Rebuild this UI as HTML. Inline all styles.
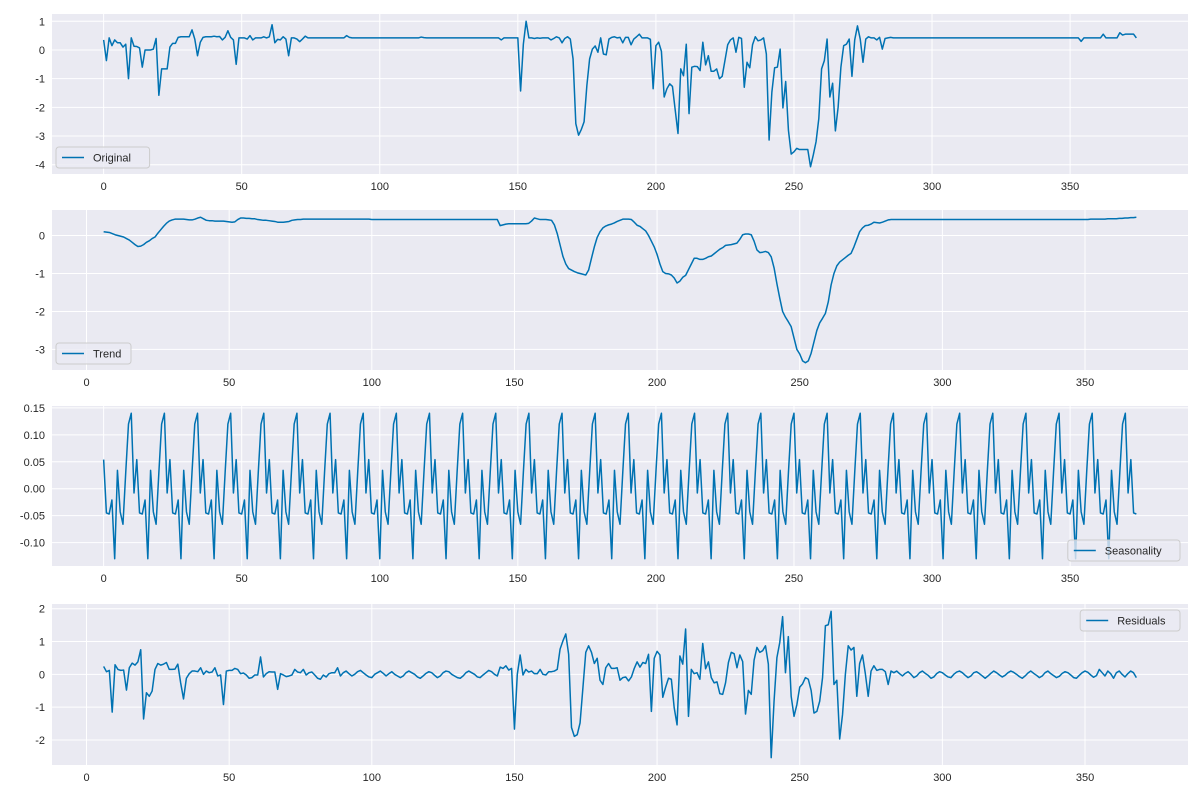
<!DOCTYPE html>
<html><head><meta charset="utf-8"><title>Seasonal decomposition</title>
<style>
html,body{margin:0;padding:0;background:#fff;}
svg{display:block;font-family:"Liberation Sans","DejaVu Sans",sans-serif;}
</style></head>
<body>
<svg id="chart" width="1200" height="800" viewBox="0 0 1200 800" xmlns="http://www.w3.org/2000/svg"></svg>
<script>
const originalStart = 0;
const originalValues = [
0.35,-0.37,0.42,0.15,0.35,0.25,0.25,0.1,0.2,-1.0,
0.42,0.13,0.12,0.07,-0.6,0,0,0,0.03,0.4,
-1.58,-0.66,-0.66,-0.66,0.1,0.23,0.23,0.44,0.46,0.46,
0.46,0.46,0.7,0.38,-0.2,0.27,0.44,0.46,0.46,0.46,
0.48,0.46,0.47,0.35,0.44,0.67,0.44,0.35,-0.5,0.42,
0.42,0.42,0.38,0.5,0.35,0.42,0.42,0.42,0.46,0.42,
0.46,0.88,0.25,0.37,0.35,0.46,0.38,-0.2,0.42,0.42,
0.38,0.29,0.38,0.48,0.42,0.42,0.42,0.42,0.42,0.42,
0.42,0.42,0.42,0.42,0.42,0.42,0.42,0.42,0.5,0.44,
0.42,0.42,0.42,0.42,0.42,0.42,0.42,0.42,0.42,0.42,
0.42,0.42,0.42,0.42,0.42,0.42,0.42,0.42,0.42,0.42,
0.42,0.42,0.42,0.42,0.42,0.45,0.43,0.42,0.42,0.42,
0.42,0.42,0.42,0.42,0.42,0.42,0.42,0.42,0.42,0.42,
0.42,0.42,0.42,0.42,0.42,0.42,0.42,0.42,0.42,0.42,
0.42,0.42,0.42,0.42,0.35,0.42,0.42,0.42,0.42,0.42,
0.42,-1.43,0.2,1.0,0.42,0.42,0.4,0.42,0.41,0.42,
0.42,0.42,0.35,0.4,0.46,0.42,0.25,0.4,0.46,0.38,
-0.31,-2.57,-2.97,-2.77,-2.5,-1.24,-0.31,0.03,0.14,-0.08,
0.42,-0.14,-0.17,0.38,0.44,0.46,0.42,0.44,0.25,0.44,
0.44,0.18,0.38,0.46,0.55,0.42,0.42,0.42,0.37,-1.35,
0.15,0.27,-0.05,-1.64,-1.35,-1.18,-1.27,-2.1,-2.91,-0.66,
-0.9,0.2,-2.22,-0.6,-0.57,-0.58,-0.72,0.27,-0.52,-0.2,
-0.74,-0.74,-0.66,-1.0,-0.92,-0.37,0.18,0.35,0.42,-0.08,
0.44,0.4,-1.3,-0.43,-0.62,0.18,0.46,0.32,0.35,0.42,
-0.14,-3.14,-1.47,-0.62,-0.6,0.03,-2.02,-1.1,-2.8,-3.63,
-3.55,-3.43,-3.47,-3.47,-3.47,-3.47,-4.07,-3.66,-3.2,-2.39,
-0.66,-0.37,0.38,-1.64,-1.16,-2.82,-1.99,-0.6,0.15,0.2,
0.38,-0.92,0.35,0.84,0.38,-0.43,0.38,0.46,0.42,0.42,
0.35,0.44,0.03,0.4,0.42,0.44,0.42,0.42,0.42,0.42,
0.42,0.42,0.42,0.42,0.42,0.42,0.42,0.42,0.42,0.42,
0.42,0.42,0.42,0.42,0.42,0.42,0.42,0.42,0.42,0.42,
0.42,0.42,0.42,0.42,0.42,0.42,0.42,0.42,0.42,0.42,
0.42,0.42,0.42,0.42,0.42,0.42,0.42,0.42,0.42,0.42,
0.42,0.42,0.42,0.42,0.42,0.42,0.42,0.42,0.42,0.42,
0.42,0.42,0.42,0.42,0.42,0.42,0.42,0.42,0.42,0.42,
0.42,0.42,0.42,0.42,0.3,0.42,0.42,0.42,0.42,0.42,
0.42,0.42,0.55,0.42,0.42,0.42,0.42,0.42,0.6,0.52,
0.55,0.55,0.55,0.55,0.42
];
const trendStart = 6;
const trendValues = [
0.1,0.09,0.08,0.05,
0.02,0,-0.02,-0.04,-0.08,-0.12,-0.18,-0.24,-0.29,-0.28,
-0.24,-0.18,-0.14,-0.08,-0.04,0.06,0.15,0.24,0.32,0.38,
0.41,0.43,0.43,0.43,0.43,0.42,0.41,0.41,0.43,0.46,
0.48,0.44,0.4,0.39,0.39,0.38,0.38,0.38,0.38,0.37,
0.36,0.35,0.36,0.42,0.46,0.46,0.45,0.45,0.44,0.44,
0.42,0.41,0.4,0.4,0.39,0.38,0.37,0.35,0.35,0.35,
0.36,0.37,0.4,0.41,0.42,0.42,0.43,0.43,0.43,0.43,
0.43,0.43,0.43,0.43,0.43,0.43,0.43,0.43,0.43,0.43,
0.43,0.43,0.43,0.43,0.43,0.43,0.43,0.43,0.43,0.43,
0.42,0.42,0.42,0.42,0.42,0.42,0.42,0.42,0.42,0.42,
0.42,0.42,0.42,0.42,0.42,0.42,0.42,0.42,0.42,0.42,
0.42,0.42,0.42,0.42,0.42,0.42,0.42,0.42,0.42,0.42,
0.42,0.42,0.42,0.42,0.42,0.42,0.42,0.42,0.42,0.42,
0.42,0.42,0.42,0.42,0.42,
0.26,0.28,0.3,0.31,0.31,
0.31,0.31,0.31,0.31,0.31,0.32,0.38,0.46,0.44,0.42,
0.42,0.42,0.41,0.4,0.28,0.05,-0.25,-0.55,-0.75,-0.87,
-0.91,-0.95,-0.98,-1.0,-1.02,-1.04,-0.91,-0.6,-0.3,-0.05,
0.1,0.2,0.25,0.28,0.3,0.33,0.37,0.4,0.43,0.43,
0.43,0.42,0.35,0.27,0.24,0.18,0.12,0.0,-0.15,-0.3,
-0.5,-0.75,-0.95,-1.0,-1.01,-1.04,-1.12,-1.25,-1.2,-1.1,
-1.05,-0.9,-0.75,-0.6,-0.6,-0.63,-0.63,-0.6,-0.56,-0.54,
-0.48,-0.42,-0.36,-0.32,-0.26,-0.25,-0.24,-0.22,-0.2,-0.1,
0.02,0.04,0.04,0.02,-0.15,-0.38,-0.45,-0.44,-0.42,-0.45,
-0.56,-0.85,-1.27,-1.65,-2.0,-2.15,-2.27,-2.4,-2.7,-3.0,
-3.12,-3.3,-3.35,-3.3,-3.1,-2.8,-2.5,-2.3,-2.18,-2.05,
-1.75,-1.3,-1.0,-0.8,-0.7,-0.64,-0.58,-0.52,-0.47,-0.3,
-0.1,0.1,0.2,0.26,0.27,0.3,0.35,0.34,0.33,0.35,
0.38,0.41,0.42,0.42,0.42,0.42,0.42,0.42,0.42,0.42,
0.42,0.42,0.42,0.42,0.42,0.42,0.42,0.42,0.42,0.42,
0.42,0.42,0.42,0.42,0.42,0.42,0.42,0.42,0.42,0.42,
0.42,0.42,0.42,0.42,0.42,0.42,0.42,0.42,0.42,0.42,
0.42,0.42,0.42,0.42,0.42,0.42,0.42,0.42,0.42,0.42,
0.42,0.42,0.42,0.42,0.42,0.42,0.42,0.42,0.42,0.42,
0.42,0.42,0.42,0.42,0.42,0.42,0.42,0.42,0.42,0.42,
0.42,0.42,0.43,0.43,0.43,0.43,0.43,0.43,0.44,0.44,
0.44,0.44,0.45,0.45,0.46,0.46,0.47,0.47,0.48
];
const seasonalStart = 0;
const seasonalCount = 375;
const seasonalPattern = [0.054,-0.045,-0.047,-0.021,-0.13,0.034,-0.043,-0.066,0.03,0.12,0.14,-0.008];
const residualStart = 6;
const residualValues = [
0.24,0.08,0.12,-1.15,
0.29,0.15,0.12,0.13,-0.48,0.2,0.34,0.28,0.38,0.75,
-1.36,-0.56,-0.67,-0.51,0.15,0.33,0.28,0.31,0.36,0.15,
0.15,0.16,0.31,-0.26,-0.75,-0.12,0.02,0.1,0.1,0.08,
0.2,0,0.1,0.05,0.07,0.2,-0.05,-0.02,-0.92,0.1,
0.12,0.12,0.18,0.15,0.02,0.04,-0.02,-0.12,-0.1,-0.02,
-0.02,0.53,-0.08,0.02,0.08,0.07,0.07,-0.46,0.02,-0.02,
-0.07,-0.05,-0.02,0.15,0.07,0.05,0.15,-0.02,0.05,0.07,
-0.02,-0.12,-0.15,-0.02,-0.08,0.02,0.05,0.05,0.2,-0.05,
0.05,0.1,0.02,-0.05,0.0,0.08,0.12,0.05,-0.02,-0.08,
-0.1,0.0,0.05,0.1,0.03,-0.05,0.02,0.08,0.0,-0.05,
-0.1,-0.05,0.05,0.1,0.05,0.0,-0.08,-0.12,-0.05,0.03,
0.08,0.05,-0.03,-0.1,-0.05,0.05,0.1,0.08,0.0,-0.05,
-0.1,-0.12,-0.05,0.05,0.1,0.05,0.0,-0.08,-0.1,-0.02,
0.05,0.12,0.08,0.0,-0.05,
0.22,0.18,0.26,0.13,0.18,
-1.67,0,0.59,-0.02,0.15,0.07,0.1,0.02,0.02,0.15,
0,-0.02,0.08,0.08,0.1,0.15,0.77,1.02,1.23,0.61,
-1.62,-1.89,-1.84,-1.48,-0.41,0.67,0.87,0.67,0.33,0.49,
-0.18,-0.31,0.2,0.33,0.18,0.18,0.2,-0.18,-0.1,-0.08,
-0.2,-0.08,0.18,0.38,0.22,0.36,0.33,0.61,-1.13,0.49,
0.7,0.59,-0.7,-0.39,-0.12,-0.15,-1.02,-1.54,0.56,0.31,
1.38,-1.28,0.15,0.02,0.05,-0.15,0.94,0.17,0.38,-0.1,
-0.26,-0.23,-0.59,-0.61,-0.26,0.36,0.67,0.63,0.2,0.59,
0.39,-1.21,-0.49,-0.61,0.43,0.82,0.67,0.72,0.87,0.31,
-2.54,-0.82,0.51,0.97,1.76,0.05,1.15,-0.67,-1.28,-0.92,
-0.39,-0.29,-0.1,-0.15,-0.49,-1.18,-1.13,-0.82,-0.1,1.48,
1.51,1.92,-0.31,-0.18,-1.97,-1.23,0,0.87,0.74,0.82,
-0.67,0.33,0.59,0.02,-0.67,0.1,0.26,0.12,0.15,0.15,
0.08,-0.31,0.1,
0.05,0.1,0.02,-0.05,0.03,0.08,0.0,-0.1,-0.05,0.05,
0.1,0.03,-0.03,-0.12,-0.08,0.02,0.08,0.05,-0.02,-0.08,
-0.1,0.0,0.07,0.1,0.05,-0.03,-0.1,-0.05,0.05,0.08,
0.02,-0.05,-0.12,-0.05,0.03,0.1,0.05,-0.02,-0.08,-0.03,
0.05,0.1,0.06,0.0,-0.07,-0.12,-0.05,0.04,0.1,0.03,
-0.03,-0.1,-0.05,0.05,0.1,0.02,-0.04,-0.1,-0.06,0.03,
0.08,0.05,-0.02,-0.1,-0.12,-0.03,0.05,0.1,0.06,-0.02,
-0.09,-0.04,0.15,0.05,-0.05,0.1,0.02,-0.12,0.05,0.1,
0.0,-0.08,0.02,0.1,0.05,-0.1
];
const xTickValues = [0,50,100,150,200,250,300,350];
const originalYTicks = [-4,-3,-2,-1,0,1];
const trendYTicks = [-3,-2,-1,0];
const seasonalYTicks = [-0.10,-0.05,0.00,0.05,0.10,0.15];
const residualYTicks = [-2,-1,0,1,2];
const seriesNames = ["Original","Trend","Seasonality","Residuals"];

const seasonalValues = [];
for (let i = 0; i < seasonalCount; i++) seasonalValues.push(seasonalPattern[i % seasonalPattern.length]);

const NS = "http://www.w3.org/2000/svg";
const svg = document.getElementById("chart");
function mk(tag, attrs, parent) {
  const e = document.createElementNS(NS, tag);
  for (const k in attrs) e.setAttribute(k, attrs[k]);
  (parent || svg).appendChild(e);
  return e;
}

const panels = [
  {key:"original", start:originalStart, vals:originalValues, yt:originalYTicks, dec:0, top:14, bottom:174, legend:"bl"},
  {key:"trend", start:trendStart, vals:trendValues, yt:trendYTicks, dec:0, top:210, bottom:370, legend:"bl"},
  {key:"seasonality", start:seasonalStart, vals:seasonalValues, yt:seasonalYTicks, dec:2, top:406, bottom:566, legend:"br"},
  {key:"residuals", start:residualStart, vals:residualValues, yt:residualYTicks, dec:0, top:604, bottom:765, legend:"tr"}
];
const L = 52, R = 1188;

panels.forEach((p, pi) => {
  const g = mk("g", {});
  
  
  const n = p.vals.length;
  const x0 = p.start, x1 = p.start + n - 1;
  const xm = (x1 - x0) * 0.05;
  const xMin = x0 - xm, xMax = x1 + xm;
  const yMinD = Math.min(...p.vals), yMaxD = Math.max(...p.vals);
  const ym = (yMaxD - yMinD) * 0.05;
  const yMin = yMinD - ym, yMax = yMaxD + ym;
  const sx = v => L + (v - xMin) / (xMax - xMin) * (R - L);
  const sy = v => p.bottom - (v - yMin) / (yMax - yMin) * (p.bottom - p.top);

  const bg = mk("rect", {x:L, y:p.top, width:R-L, height:p.bottom-p.top, fill:"#eaeaf2"}, g);
  
  

  xTickValues.forEach(t => {
    const x = sx(t);
    const gl = mk("line", {x1:x, x2:x, y1:p.top, y2:p.bottom, stroke:"#fff", "stroke-width":1}, g);
    
    
    const tl = mk("text", {x:x, y:p.bottom + 16, "text-anchor":"middle", "font-size":"11", fill:"#262626"}, g);
    
    
    tl.textContent = String(t);
  });
  p.yt.forEach(t => {
    const y = sy(t);
    if (y < p.top - 0.5 || y > p.bottom + 0.5) return;
    const gl = mk("line", {x1:L, x2:R, y1:y, y2:y, stroke:"#fff", "stroke-width":1}, g);
    
    
    const tl = mk("text", {x:L - 7, y:y + 4, "text-anchor":"end", "font-size":"11", fill:"#262626"}, g);
    
    
    tl.textContent = t.toFixed(p.dec);
  });

  let d = "";
  p.vals.forEach((v, i) => { d += (i ? "L" : "M") + sx(p.start + i).toFixed(2) + "," + sy(v).toFixed(2); });
  const path = mk("path", {d:d, fill:"none", stroke:"#0072b2", "stroke-width":1.5, "stroke-linejoin":"round"}, g);
  
  

  const label = seriesNames[pi];
  const lw = label.length * 6.2 + 44;
  const lh = 21;
  let lx, ly;
  if (p.legend === "bl") { lx = L + 4; ly = p.bottom - lh - 6; }
  else if (p.legend === "br") { lx = R - lw - 8; ly = p.bottom - lh - 5; }
  else { lx = R - lw - 8; ly = p.top + 6; }
  const lg = mk("g", {}, g);
  
  
  mk("rect", {x:lx, y:ly, width:lw, height:lh, rx:3, fill:"#eaeaf2", "fill-opacity":0.8, stroke:"#cccccc", "stroke-width":1}, lg);
  mk("line", {x1:lx + 6, x2:lx + 28, y1:ly + lh/2, y2:ly + lh/2, stroke:"#0072b2", "stroke-width":1.5}, lg);
  const lt = mk("text", {x:lx + 37, y:ly + lh/2 + 4, "font-size":"11", fill:"#262626"}, lg);
  
  
  lt.textContent = label;
});
</script>
</body></html>
